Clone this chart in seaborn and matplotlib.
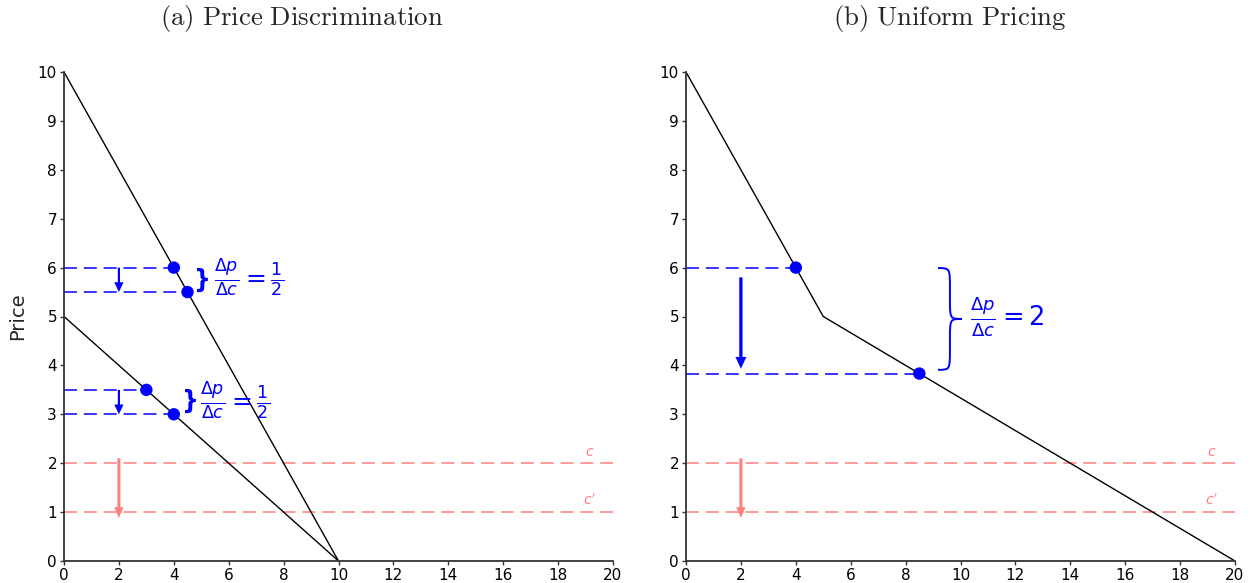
import numpy as np
import pandas as pd
import matplotlib
matplotlib.use("Agg")
import matplotlib.pyplot as plt
from matplotlib.path import Path
from matplotlib.patches import PathPatch
import seaborn as sns

# ---------------- data ----------------
q_high = [0, 10]
p_high = [10, 0]
q_low = [0, 10]
p_low = [5, 0]
q_uniform = [0, 5, 20]
p_uniform = [10, 5, 0]

pts_a_q = [4, 4.5, 3, 4]
pts_a_p = [6, 5.5, 3.5, 3]
pts_b_q = [4, 8.5]
pts_b_p = [6, 3.833]

cost_levels = [2, 1]
cost_labels = ["$c$", "$c'$"]

x_ticks = [0, 2, 4, 6, 8, 10, 12, 14, 16, 18, 20]
y_ticks = [0, 1, 2, 3, 4, 5, 6, 7, 8, 9, 10]

titles = ["(a) Price Discrimination", "(b) Uniform Pricing"]
ratio_a = r"$\frac{\Delta p}{\Delta c} = \frac{1}{2}$"
ratio_b = r"$\frac{\Delta p}{\Delta c} = 2$"

BLUE = "#0000ff"
RED = "#ff7f7f"
DASH = (0, (8.5, 4.5))

sns.set_theme(style="white")
plt.rcParams["font.family"] = ["DejaVu Sans"]

fig = plt.figure(figsize=(12.52, 5.83), dpi=100)
axA = fig.add_axes([64 / 1252, 1 - 561 / 583, (613 - 64) / 1252, (561 - 72) / 583])
axB = fig.add_axes([686 / 1252, 1 - 561 / 583, (1235 - 686) / 1252, (561 - 72) / 583])


def style_axes(ax):
    ax.set_xlim(0, 20)
    ax.set_ylim(0, 10)
    ax.set_xticks(x_ticks)
    ax.set_yticks(y_ticks)
    for s in ["top", "right"]:
        ax.spines[s].set_visible(False)
    for s in ["left", "bottom"]:
        ax.spines[s].set_color("#333333")
        ax.spines[s].set_linewidth(1.3)
    ax.tick_params(axis="both", direction="out", length=3, width=1,
                   color="#333333", labelsize=11, pad=2, bottom=True, left=True,
                   labelcolor="black")
    ax.set_xlabel("")
    ax.set_ylabel("")


def cost_lines(ax):
    for lvl, lab in zip(cost_levels, cost_labels):
        ax.hlines(lvl, 0, 20, colors=RED, linestyles=DASH, lw=1.1, zorder=1)
        ax.text(19.15, lvl + 0.08, lab, color=RED, fontsize=10, ha="center", va="bottom")
    ax.arrow(2, 2.1, 0, cost_levels[1] - 2.1 - 0.12, width=0.11, head_width=0.34,
             head_length=0.22, length_includes_head=True, color=RED, lw=0, zorder=3)


def brace(ax, x0, yb, yt, w, d, color, lw=1.4):
    ym = (yt + yb) / 2
    xm = x0 + w / 2
    verts = [
        (x0, yt), (xm, yt), (xm, yt), (xm, yt - d),
        (xm, ym + d),
        (xm, ym), (xm, ym), (x0 + w, ym),
        (xm, ym), (xm, ym), (xm, ym - d),
        (xm, yb + d),
        (xm, yb), (xm, yb), (x0, yb),
    ]
    codes = [Path.MOVETO, Path.CURVE4, Path.CURVE4, Path.CURVE4,
             Path.LINETO,
             Path.CURVE4, Path.CURVE4, Path.CURVE4,
             Path.CURVE4, Path.CURVE4, Path.CURVE4,
             Path.LINETO,
             Path.CURVE4, Path.CURVE4, Path.CURVE4]
    ax.add_patch(PathPatch(Path(verts, codes), fill=False, edgecolor=color, lw=lw, zorder=3))


# ---------------- panel (a) ----------------
cost_lines(axA)
sns.lineplot(x=q_high, y=p_high, ax=axA, color="black", lw=1, sort=False, zorder=2)
sns.lineplot(x=q_low, y=p_low, ax=axA, color="black", lw=1, sort=False, zorder=2)
axA.hlines(pts_a_p, 0, pts_a_q, colors=BLUE, linestyles=DASH, lw=1.1, zorder=2)
sns.scatterplot(x=pts_a_q, y=pts_a_p, ax=axA, color=BLUE, s=80, edgecolor="none", zorder=4)
for top, bot in [(pts_a_p[0], pts_a_p[1]), (pts_a_p[2], pts_a_p[3])]:
    axA.arrow(2, top, 0, bot - top, width=0.08, head_width=0.34, head_length=0.2,
              length_includes_head=True, color=BLUE, lw=0, zorder=3)
axA.text(5.06, 5.75, "}", color=BLUE, fontsize=17, fontweight="bold", ha="center", va="center")
axA.text(4.6, 3.27, "}", color=BLUE, fontsize=17, fontweight="bold", ha="center", va="center")
axA.text(5.45, 5.78, ratio_a, color=BLUE, fontsize=18, ha="left", va="center")
axA.text(4.95, 3.27, ratio_a, color=BLUE, fontsize=18, ha="left", va="center")
style_axes(axA)
axA.set_ylabel("Price", fontsize=14, labelpad=8)

# ---------------- panel (b) ----------------
cost_lines(axB)
sns.lineplot(x=q_uniform, y=p_uniform, ax=axB, color="black", lw=1, sort=False, zorder=2)
axB.hlines(pts_b_p, 0, pts_b_q, colors=BLUE, linestyles=DASH, lw=1.1, zorder=2)
sns.scatterplot(x=pts_b_q, y=pts_b_p, ax=axB, color=BLUE, s=80, edgecolor="none", zorder=4)
axB.arrow(2, 5.8, 0, (pts_b_p[1] + 0.1) - 5.8, width=0.12, head_width=0.4, head_length=0.24,
          length_includes_head=True, color=BLUE, lw=0, zorder=3)
brace(axB, 9.18, 3.91, 5.99, 0.87, 0.42, BLUE)
axB.text(10.35, 4.99, ratio_b, color=BLUE, fontsize=18.5, ha="left", va="center")
style_axes(axB)

for ax in (axA, axB):
    leg = ax.get_legend()
    if leg is not None:
        leg.remove()

fig.text(302 / 1252, 1 - 18 / 583, r"$\mathrm{(a)\ Price\ Discrimination}$",
         math_fontfamily="cm", fontsize=19.3, ha="center", va="center")
fig.text(950 / 1252, 1 - 18 / 583, r"$\mathrm{(b)\ Uniform\ Pricing}$",
         math_fontfamily="cm", fontsize=19.3, ha="center", va="center")

fig.savefig("out.png", dpi=100)
